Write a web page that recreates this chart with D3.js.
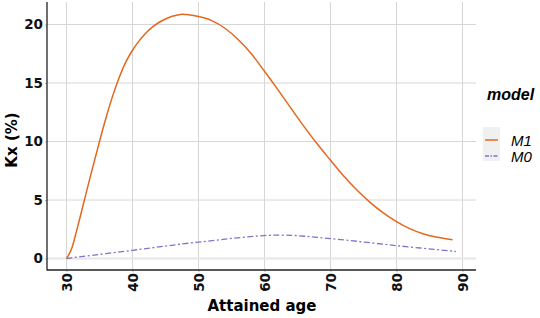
<!DOCTYPE html>
<html><head><meta charset="utf-8">
<script src="https://cdn.jsdelivr.net/npm/d3@7"></script>
<style>body{margin:0;background:#fff}svg{display:block}</style>
</head><body>
<svg id="c" width="540" height="318"></svg>
<script>
const ageM1 = [30,30.8,31.5,32,33,34,35,36,37,38,39,40,41,42,43,44,45,46,47,47.5,48,49,50,52,54,56,58,60,62,64,66,68,70,72,74,76,78,80,82,84,86,88.5];
const kxM1 = [0,0.87,2.3,3.4,5.65,7.85,10.0,12.05,13.9,15.5,16.8,17.8,18.6,19.25,19.77,20.17,20.47,20.7,20.84,20.87,20.86,20.8,20.68,20.33,19.68,18.72,17.5,16.0,14.45,12.85,11.27,9.78,8.4,7.05,5.85,4.8,3.9,3.15,2.55,2.12,1.83,1.6];
const ageM0 = [30,40,50,62,70,80,89];
const kxM0 = [0,0.7,1.4,2.0,1.7,1.1,0.6];
const xTicks = [30,40,50,60,70,80,90];
const yTicks = [0,5,10,15,20];
const models = ["M1","M0"];
const colors = {M1:"#e2681e", M0:"#8074c8"};

const svg = d3.select("#c");
const L=47, R=476, T=2, B=270;
const x = d3.scaleLinear().domain([30,90]).range([66.5,462.5]);
const y = d3.scaleLinear().domain([0,20]).range([258.5,24.5]);

// gridlines
const g = svg.append("g");
g.selectAll(".vx").data(xTicks).join("line")
  .attr("x1",d=>x(d)).attr("x2",d=>x(d)).attr("y1",T).attr("y2",B)
  .attr("stroke","#d6d6d6").attr("stroke-width",1);
g.selectAll(".hy").data(yTicks).join("line")
  .attr("x1",L).attr("x2",R).attr("y1",d=>y(d)).attr("y2",d=>y(d))
  .attr("stroke",d=>d===0?"#e6e6e6":"#d6d6d6").attr("stroke-width",d=>d===0?2:1);

const tickFont = sel => sel.style("font-family","DejaVu Sans").style("font-size","13.5px")
  .style("font-weight","bold").attr("fill","#111");

// axes
const xAxis = d3.axisBottom(x).tickValues(xTicks).tickSize(2).tickPadding(1);
const ax = svg.append("g").attr("transform",`translate(0,${B})`).call(xAxis);
ax.select(".domain").remove();
ax.selectAll(".tick line").attr("stroke","#bbb");
ax.selectAll(".tick text")
  .attr("transform","rotate(-90)").attr("text-anchor","end")
  .attr("x",-3).attr("y",0).attr("dy","0.36em").call(tickFont);

const yAxis = d3.axisLeft(y).tickValues(yTicks).tickSize(2).tickPadding(2);
const ay = svg.append("g").attr("transform",`translate(${L},0)`).call(yAxis);
ay.select(".domain").remove();
ay.selectAll(".tick line").attr("stroke","#bbb");
ay.selectAll(".tick text").call(tickFont);

svg.append("line").attr("x1",L).attr("x2",L).attr("y1",T).attr("y2",B+0.5).attr("stroke","#222").attr("stroke-width",1.3);
svg.append("line").attr("x1",L).attr("x2",R).attr("y1",B).attr("y2",B).attr("stroke","#222").attr("stroke-width",1.3);

// lines
const line = d3.line().x(d=>x(d[0])).y(d=>y(d[1])).curve(d3.curveMonotoneX);
svg.append("path").datum(ageM0.map((a,i)=>[a,kxM0[i]]))
  .attr("d",line.curve(d3.curveCatmullRom.alpha(0.5))).attr("fill","none").attr("stroke",colors.M0).attr("stroke-width",1.3)
  .attr("stroke-dasharray","6,2.5,2,2.5");
line.curve(d3.curveMonotoneX);
svg.append("path").datum(ageM1.map((a,i)=>[a,kxM1[i]]))
  .attr("d",line).attr("fill","none").attr("stroke",colors.M1).attr("stroke-width",1.5);

// titles
svg.append("text").attr("x",262).attr("y",311).attr("text-anchor","middle")
  .style("font-family","DejaVu Sans").style("font-size","15px").style("font-weight","bold").text("Attained age");
svg.append("text").attr("transform","translate(17,140) rotate(-90)").attr("text-anchor","middle")
  .style("font-family","DejaVu Sans").style("font-size","15px").style("font-weight","bold").text("Kx (%)");

// legend
const lg = svg.append("g").attr("transform","translate(483,0)");
lg.append("text").attr("x",4).attr("y",100).style("font-family","Liberation Sans").style("font-size","16px")
  .style("font-weight","bold").style("font-style","italic").text("model");
lg.append("rect").attr("x",0).attr("y",127).attr("width",17).attr("height",34).attr("fill","#f0f0f0");
models.forEach((m,i)=>{
  const yy = 137 + i*16;
  lg.append("line").attr("x1",2).attr("x2",15).attr("y1",yy+3).attr("y2",yy+3)
    .attr("stroke",colors[m]).attr("stroke-width",1.5)
    .attr("stroke-dasharray", m==="M0"?"4,1.5,1.5,1.5":null);
  lg.append("text").attr("x",28).attr("y",yy+9).style("font-family","Liberation Sans").style("font-size","15px")
    .style("font-style","italic").text(m);
});
</script>
</body></html>
